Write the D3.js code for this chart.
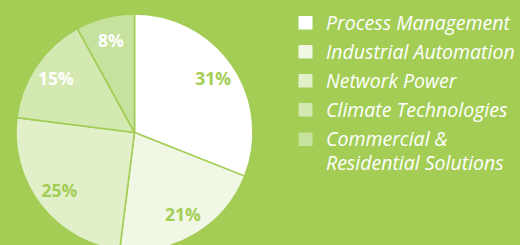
<!DOCTYPE html>
<html><head><meta charset="utf-8">
<script src="https://cdn.jsdelivr.net/npm/d3@7"></script>
<style>
html,body{margin:0;padding:0;background:#a3cd55;overflow:hidden}
svg{display:block}
</style></head>
<body>
<svg id="c" width="520" height="245"></svg>
<script>
const categories = ["Process Management","Industrial Automation","Network Power","Climate Technologies","Commercial & Residential Solutions"];
const legendLines = [["Process Management"],["Industrial Automation"],["Network Power"],["Climate Technologies"],["Commercial &","Residential Solutions"]];
const values = [31,21,25,15,8];
const labels = ["31%","21%","25%","15%","8%"];
const sliceColors = ["#ffffff","#f0f7e4","#e2f0ca","#d4e9b2","#c6e29c"];
const labelColors = ["#a3cd55","#a3cd55","#a3cd55","#ffffff","#ffffff"];
const bg = "#a3cd55";

const svg = d3.select("#c");
svg.append("rect").attr("width",520).attr("height",245).attr("fill",bg);

const cx = 134.5, cy = 132.5, R = 118.5;
const pie = d3.pie().sort(null).value(d=>d)(values);
const arc = d3.arc().innerRadius(0).outerRadius(R);
const labelArc = d3.arc().innerRadius(95).outerRadius(95);

const g = svg.append("g").attr("transform",`translate(${cx},${cy})`);
g.selectAll("path").data(pie).join("path")
  .attr("d",arc)
  .attr("fill",(d,i)=>sliceColors[i])
  .attr("stroke",bg).attr("stroke-width",1.6).attr("stroke-linejoin","round");

g.selectAll("text").data(pie).join("text")
  .attr("transform",d=>`translate(${labelArc.centroid(d)})`)
  .attr("text-anchor","middle").attr("dy","0.36em")
  .attr("font-family","'Open Sans', sans-serif").attr("font-weight",700)
  .attr("font-size",17.5)
  .attr("fill",(d,i)=>labelColors[i])
  .text((d,i)=>labels[i]);

const lg = svg.append("g");
const rowY = [29.5,58.5,87.5,116.5,146];
categories.forEach((c,i)=>{
  lg.append("rect").attr("x",298.5).attr("y",rowY[i]-13.5).attr("width",14).attr("height",13.5)
    .attr("fill",sliceColors[i]);
  const t = lg.append("text").attr("x",326).attr("y",rowY[i])
    .attr("font-family","'Open Sans', sans-serif").attr("font-style","italic").attr("font-weight",400)
    .attr("font-size",19.5).attr("fill","#ffffff");
  legendLines[i].forEach((ln,j)=>{
    t.append("tspan").attr("x",326).attr("dy", j===0?0:23.5).text(ln);
  });
});
</script>
</body></html>
